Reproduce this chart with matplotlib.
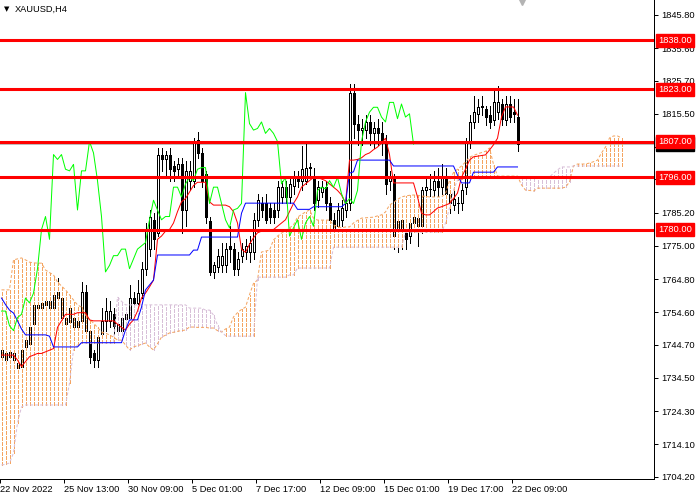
import numpy as np
import matplotlib
matplotlib.use("Agg")
import matplotlib.pyplot as plt
from matplotlib.transforms import blended_transform_factory

plt.rcParams['font.family'] = ['Liberation Sans', 'DejaVu Sans']

symbol = "XAUUSD,H4"

# H4 candles, oldest first
opens = [
    1741, 1742, 1741, 1742, 1739, 1738, 1744, 1745, 1751, 1757,
    1756, 1757, 1758, 1756, 1759, 1759, 1753, 1751.5, 1753, 1750,
    1752, 1761, 1749, 1742, 1740, 1748, 1752, 1752, 1754, 1751,
    1749, 1752.5, 1753, 1759, 1757.5, 1760.5, 1768, 1774, 1783, 1779,
    1803, 1801.5, 1803, 1799.5, 1798.5, 1800, 1786, 1795, 1795, 1807.5,
    1803.5, 1797, 1782.5, 1767, 1768.5, 1769, 1769, 1775, 1774, 1768,
    1772, 1773, 1773, 1773, 1783, 1788, 1788, 1786.5, 1786, 1786,
    1790, 1793, 1790, 1793.5, 1796, 1795, 1795, 1799, 1796, 1789,
    1791.5, 1793, 1788, 1783, 1781, 1783, 1786, 1788, 1822, 1812.5,
    1810.5, 1810.5, 1813, 1809.5, 1811, 1809.5, 1807, 1795, 1796, 1782.5,
    1780.5, 1779, 1778, 1782, 1783.5, 1781, 1792, 1792.5, 1792, 1795,
    1793, 1796, 1791, 1787.5, 1788, 1788, 1793, 1807, 1813, 1815.5,
    1818, 1817, 1815, 1813.5, 1816, 1818.5, 1813.5, 1818.5, 1816, 1814.5,
]
highs = [
    1745, 1744, 1744, 1744, 1741, 1746, 1748, 1752, 1759, 1760,
    1759, 1761, 1760, 1762, 1765, 1761, 1756, 1758, 1755, 1754,
    1764, 1763, 1750, 1743, 1748, 1756, 1759, 1758, 1756, 1753,
    1754, 1756, 1763, 1761, 1764.5, 1770, 1782, 1786, 1785, 1805,
    1805, 1804, 1805, 1801, 1802, 1802, 1801, 1801, 1808, 1810,
    1805, 1798, 1784, 1770, 1774, 1776, 1776, 1781, 1776, 1773,
    1776, 1777, 1778, 1785, 1791, 1790, 1791, 1788, 1788, 1795,
    1795, 1795, 1796, 1798, 1798, 1805.5, 1807, 1800.5, 1799, 1795,
    1795, 1795, 1790, 1785, 1788, 1789, 1790, 1824.5, 1824.5, 1815,
    1814, 1815, 1815, 1813, 1814, 1813, 1809, 1798, 1797, 1785,
    1786, 1781, 1784, 1786, 1786, 1793, 1796, 1797, 1798, 1799,
    1800, 1799, 1793, 1792, 1790, 1794, 1808, 1815, 1821, 1820,
    1821, 1818, 1818, 1823.5, 1824, 1820, 1821, 1821, 1820, 1820,
]
lows = [
    1738, 1738, 1739, 1735, 1733, 1727, 1742, 1744, 1749, 1752,
    1753, 1755, 1754, 1754, 1757, 1750, 1748, 1748, 1747, 1748,
    1750, 1747, 1739, 1738, 1738, 1746, 1749, 1750, 1748, 1746,
    1747, 1750, 1751, 1754, 1754.5, 1759, 1766, 1772, 1774, 1778,
    1798, 1796, 1795, 1795, 1796, 1779, 1781, 1792, 1793, 1802,
    1793, 1782, 1766, 1765, 1767, 1767, 1767, 1770, 1766, 1766,
    1770, 1771, 1770, 1771, 1781, 1784, 1782, 1782, 1782, 1784,
    1788, 1788, 1788, 1791, 1793, 1792, 1794, 1796, 1786, 1787,
    1790, 1786, 1781, 1778, 1779, 1781, 1784, 1786, 1808, 1806,
    1806, 1808, 1806, 1805, 1806, 1803, 1791, 1792, 1774, 1773,
    1774, 1774, 1776, 1780, 1775, 1779, 1789, 1789, 1790, 1790,
    1791, 1789, 1785, 1786, 1785, 1786, 1791, 1805, 1811, 1813,
    1815, 1812, 1811, 1812, 1814, 1812, 1812, 1813, 1813, 1804,
]
closes = [
    1743, 1740, 1742.5, 1740, 1737.5, 1743, 1746, 1750, 1757, 1756,
    1757.5, 1758, 1756, 1760, 1761, 1753, 1751, 1756, 1750, 1752,
    1761, 1749, 1741, 1740, 1747, 1752, 1755, 1755, 1750.5, 1749,
    1753, 1754, 1759, 1757.5, 1760.5, 1768, 1780, 1784, 1777, 1803,
    1801.5, 1803, 1798.5, 1798, 1800, 1786, 1798, 1798, 1807, 1803.5,
    1795, 1784, 1767, 1769, 1772, 1772, 1774, 1774, 1768, 1771,
    1774, 1775, 1776, 1783, 1789, 1786, 1783, 1784, 1784, 1793,
    1793, 1790, 1794, 1796, 1795, 1798.5, 1799, 1799, 1788, 1793,
    1793, 1788, 1783, 1780.5, 1786, 1786.5, 1788, 1822, 1812.5, 1810.5,
    1811, 1813, 1809.5, 1811, 1809.5, 1807, 1794, 1796, 1778, 1780.5,
    1783, 1777, 1782, 1784, 1781, 1792, 1793, 1792.5, 1795, 1793,
    1796, 1791, 1788, 1789.5, 1788, 1792, 1807, 1813, 1816, 1817.5,
    1817.5, 1814.5, 1813, 1819, 1819, 1814, 1818.5, 1814.5, 1815.5, 1806.2,
]

# Ichimoku lines
tenkan = [
    1741.5, 1741.5, 1741.5, 1741.5, 1740, 1738, 1739.5, 1741, 1741.5, 1742,
    1742, 1742.5, 1743, 1743.5, 1750, 1752, 1754, 1754, 1754, 1754.5,
    1754.5, 1754.5, 1752.3, 1752, 1752, 1752, 1752, 1752, 1752, 1751,
    1750, 1749.2, 1751, 1752.3, 1755, 1759, 1760.5, 1762.4, 1764.5, 1777,
    1778, 1779.5, 1780, 1782, 1785.5, 1788.5, 1789.5, 1791.5, 1793.5, 1794.5,
    1794.5, 1794.5, 1788.5, 1787.5, 1787.5, 1787.5, 1787.5, 1787, 1785.5, 1782,
    1774, 1773, 1775.5, 1777.5, 1779, 1779.5, 1780, 1780, 1780, 1781,
    1782, 1783, 1785.5, 1788, 1790, 1793, 1794, 1795, 1796, 1796,
    1795.5, 1795, 1794, 1793, 1792, 1790.6, 1788, 1801.3, 1801.3, 1801.5,
    1802, 1803, 1803.5, 1804.5, 1805.3, 1806.5, 1808, 1803, 1794.3, 1794.3,
    1794.3, 1794.3, 1794.3, 1794.3, 1790, 1785, 1784.5, 1784.5, 1785.5, 1786.6,
    1787, 1787.5, 1788, 1789.5, 1791.2, 1796, 1798.5, 1801.3, 1802.3, 1802.5,
    1802.7, 1802.9, 1804.4, 1806, 1808, 1814.5, 1817.6, 1817.6, 1817.6, 1815.1,
]
kijun = [
    1759, 1757, 1755.3, 1754.4, 1752, 1749.5, 1747.7, 1747.7, 1747.7, 1747.7,
    1747.7, 1747.7, 1747.3, 1744, 1744, 1744, 1744, 1744, 1744, 1744,
    1745.3, 1745.3, 1745.3, 1745.3, 1745.3, 1745.3, 1745.3, 1745.3, 1745.3, 1745.3,
    1745.3, 1749.2, 1752.3, 1752.3, 1752.3, 1756.2, 1761.5, 1763, 1764.5, 1772.2,
    1772.2, 1772.2, 1772.2, 1772.2, 1772.2, 1772.2, 1772.2, 1772.2, 1773.7, 1773.7,
    1777.7, 1777.7, 1777.7, 1777.7, 1777.7, 1777.7, 1777.7, 1777.7, 1777.7, 1777.7,
    1785, 1788.1, 1788.1, 1788.1, 1788.1, 1788.1, 1788.1, 1788.1, 1788.1, 1788.1,
    1788.1, 1788.1, 1788.1, 1788.1, 1786.2, 1786.2, 1786.2, 1786.2, 1787, 1787,
    1787, 1787, 1787, 1787, 1787, 1787, 1788, 1797.3, 1797.7, 1801.3,
    1801.3, 1801.3, 1801.3, 1801.3, 1801.3, 1801.3, 1801.3, 1801.3, 1799.5, 1799.5,
    1799.5, 1799.5, 1799.5, 1799.5, 1799.5, 1799.5, 1799.5, 1799.5, 1799.5, 1799.5,
    1799.5, 1799.5, 1799.5, 1799.5, 1796.7, 1794.3, 1794.3, 1794.3, 1797.6, 1797.6,
    1797.6, 1797.6, 1797.6, 1797.6, 1799.2, 1799.2, 1799.2, 1799.2, 1799.2, 1799.2,
]
# cloud runs 26 bars past the last candle
span_a = [
    1761.5, 1761.5, 1761.5, 1770.7, 1771, 1771.3, 1770.7, 1770, 1769.8, 1769.7,
    1769.7, 1767.6, 1766.8, 1766.1, 1763.9, 1762.7, 1761.5, 1760, 1758.4, 1756.9,
    1756.2, 1753.8, 1752.5, 1751.3, 1750, 1748.6, 1748.2, 1747.7, 1747, 1746.1,
    1746.1, 1744.6, 1743.1, 1744, 1744.4, 1744.8, 1745.2, 1744, 1743.1, 1745,
    1747, 1747.6, 1748.3, 1748.5, 1748.8, 1749, 1749.2, 1750.1, 1750.1, 1750,
    1750, 1750, 1749.8, 1749.8, 1749, 1748.6, 1749.5, 1750.1, 1753.2, 1754.5,
    1755.5, 1756.2, 1760, 1763.5, 1764.5, 1773.1, 1773.4, 1773.7, 1776.8, 1778,
    1778.9, 1779.7, 1780.5, 1781.4, 1783.8, 1784.6, 1785.4, 1786, 1783.5, 1782.9,
    1782.9, 1782.9, 1782.9, 1781.4, 1781, 1780.5, 1780.8, 1780.8, 1782, 1782.8,
    1783.5, 1783.6, 1783.7, 1783.8, 1784.2, 1784.5, 1785.4, 1787.5, 1788.3, 1789.2,
    1790, 1790.3, 1790.5, 1790.6, 1790.5, 1790.3, 1790.2, 1790, 1790, 1790,
    1790, 1791, 1795, 1797.5, 1798.5, 1799.5, 1800.7, 1802.2, 1802.7, 1803.2,
    1803.6, 1804, 1805, 1800, 1796.4, 1796.4, 1796.4, 1796.4, 1796.4, 1796.4,
    1793.7, 1792.1, 1792, 1791.8, 1792.7, 1792.7, 1792.7, 1792.7, 1792.7, 1792.7,
    1792.7, 1793, 1794.6, 1799.5, 1800.1, 1800.1, 1800.1, 1800.4, 1800.8, 1801.3,
    1803.5, 1805.3, 1808.1, 1808.7, 1808.7, 1808.1,
]
span_b = [
    1707.8, 1708, 1708.4, 1711.5, 1720.7, 1725.6, 1726.2, 1726.2, 1726.2, 1726.2,
    1726.2, 1726.2, 1726.2, 1726.2, 1726.2, 1726.2, 1726.2, 1732.9, 1743.1, 1744.6,
    1745.2, 1745.2, 1745.2, 1745.2, 1745.2, 1745.2, 1745.2, 1745.2, 1745.2, 1759.3,
    1758, 1756.9, 1756.9, 1756.9, 1756.9, 1756.9, 1756.9, 1756.9, 1756.9, 1756.9,
    1756.9, 1756.9, 1756.9, 1756.9, 1756.9, 1756.9, 1756.9, 1755.9, 1755.9, 1755.9,
    1755.9, 1755.3, 1755.3, 1753.8, 1750.7, 1748.6, 1747.5, 1747.3, 1747.3, 1747.3,
    1747.3, 1747.3, 1747.3, 1747.3, 1765.4, 1765.4, 1765.4, 1765.4, 1765.4, 1765.4,
    1765.4, 1765.4, 1766.1, 1766.1, 1768.2, 1768.2, 1768.2, 1768.2, 1768.2, 1768.2,
    1768.2, 1768.2, 1768.2, 1774.6, 1774.6, 1774.6, 1774.6, 1774.6, 1774.6, 1774.6,
    1774.6, 1774.6, 1774.6, 1774.6, 1774.6, 1774.6, 1774.6, 1774.6, 1774.6, 1774.6,
    1774.6, 1779.2, 1779.2, 1779.2, 1779.2, 1779.2, 1779.2, 1779.2, 1779.2, 1779.2,
    1779.2, 1782, 1786.6, 1792.1, 1795.2, 1795.5, 1795.8, 1795.8, 1795.8, 1795.8,
    1795.8, 1795.8, 1795.8, 1795.8, 1795.8, 1795.8, 1795.8, 1795.8, 1795.8, 1795.8,
    1796.1, 1796.1, 1796.1, 1796.1, 1796.1, 1796.1, 1796.1, 1796.1, 1797.3, 1798.3,
    1799.2, 1799.2, 1799.2, 1799.5, 1799.5, 1799.5, 1799.5, 1799.5, 1799.5, 1799.5,
    1799.5, 1799.5, 1799.5, 1799.5, 1799.5, 1799.5,
]
chikou_shift = 26

levels = [1838.00, 1823.00, 1807.00, 1796.00, 1780.00]
last_price = closes[-1]
price_ticks = [1845.80, 1835.60, 1825.70, 1815.50, 1805.30, 1795.40, 1785.20,
               1775.00, 1764.80, 1754.60, 1744.70, 1734.50, 1724.30, 1714.10, 1704.20]
time_labels = ["22 Nov 2022", "25 Nov 13:00", "30 Nov 09:00", "5 Dec 01:00",
               "7 Dec 17:00", "12 Dec 09:00", "15 Dec 01:00", "19 Dec 17:00",
               "22 Dec 09:00"]

FS = 6.7
SANDY = '#f4a460'
THISTLE = '#d8bfd8'

fig = plt.figure(figsize=(7, 5), dpi=100)
ax = fig.add_axes([0, 21 / 500, 654 / 700, 479 / 500])
# 4 px per bar, bar centres on pixel centres
ax.set_xlim(-0.375, 163.125)
ax.set_ylim(1703.5, 1850.4)

o = np.array(opens)
h = np.array(highs)
l = np.array(lows)
c = np.array(closes)
x = np.arange(len(o))

# candles
ax.vlines(x, l, h, color='black', lw=0.72, zorder=2, antialiased=False)
up = c >= o
body_lo = np.minimum(o, c)
body_h = np.maximum(np.abs(c - o), 0.08)
ax.bar(x, body_h, bottom=body_lo, width=0.5,
       color=np.where(up, 'white', 'black'), edgecolor='black',
       linewidth=0.72, zorder=2.1, antialiased=False)

# kumo: dotted vertical lines per bar, gaps painted white like the terminal does
a = np.array(span_a)
b = np.array(span_b)
xc = np.arange(len(a))
bull = a >= b
dots = (0, (3, 2))
lo = np.minimum(a, b)
hi = np.maximum(a, b)
ax.vlines(xc, lo, hi, colors='white', lw=0.72, zorder=2.9, antialiased=False)
ax.vlines(xc[bull], lo[bull], hi[bull], colors=SANDY, lw=0.72,
          linestyles=[dots], zorder=3, antialiased=False)
ax.vlines(xc[~bull], lo[~bull], hi[~bull], colors=THISTLE, lw=0.72,
          linestyles=[dots], zorder=3, antialiased=False)
ax.plot(xc, a, color=SANDY, lw=0.72, ls=dots, zorder=3.1)
ax.plot(xc, b, color=THISTLE, lw=0.72, ls=dots, zorder=3.1)

ax.plot(x, tenkan, color='#ff0000', lw=0.72, zorder=4)
ax.plot(x, kijun, color='#0000ff', lw=0.72, zorder=4)
ax.plot(x[:len(c) - chikou_shift], c[chikou_shift:], color='#00ff00', lw=0.72, zorder=4)

# levels and price labels
ax.axhline(last_price, color='#c0c0c0', lw=0.72, zorder=1.5)
for lv in levels:
    ax.axhline(lv, color='#ff0000', lw=2.2, zorder=5)

trans = blended_transform_factory(ax.transAxes, ax.transData)
ax.text(1.006, last_price, f"{last_price:.2f}", transform=trans, color='white',
        fontsize=FS, va='center', ha='left', clip_on=False, zorder=6,
        bbox=dict(boxstyle='square,pad=0.25', fc='black', ec='black'))
for lv in levels:
    ax.text(1.006, lv, f"{lv:.2f}", transform=trans, color='white',
            fontsize=FS, va='center', ha='left', clip_on=False, zorder=7,
            bbox=dict(boxstyle='square,pad=0.25', fc='#ff0000', ec='#ff0000'))

# shift marker
ax.plot([130], [1850.4], marker='v', ms=7, color='#b4b4b4', clip_on=False, zorder=8)

# axes
ax.yaxis.tick_right()
ax.set_yticks(price_ticks)
ax.set_yticklabels([f"{t:.2f}" for t in price_ticks])
ax.set_xticks(np.arange(len(time_labels)) * 16 - 0.375)
ax.set_xticklabels(time_labels, ha='left')
ax.tick_params(axis='y', direction='out', length=3, width=0.72, pad=2, labelsize=FS)
ax.tick_params(axis='x', direction='out', length=3, width=0.72, pad=1.5, labelsize=FS)
for side in ('top', 'left'):
    ax.spines[side].set_visible(False)
for side in ('right', 'bottom'):
    ax.spines[side].set_linewidth(0.72)

fig.text(4 / 700, 1 - 9 / 500, '\u25bc', fontsize=5, va='center', family='DejaVu Sans')
fig.text(15 / 700, 1 - 9 / 500, symbol, fontsize=FS, va='center')

fig.savefig('out.png', dpi=100)
